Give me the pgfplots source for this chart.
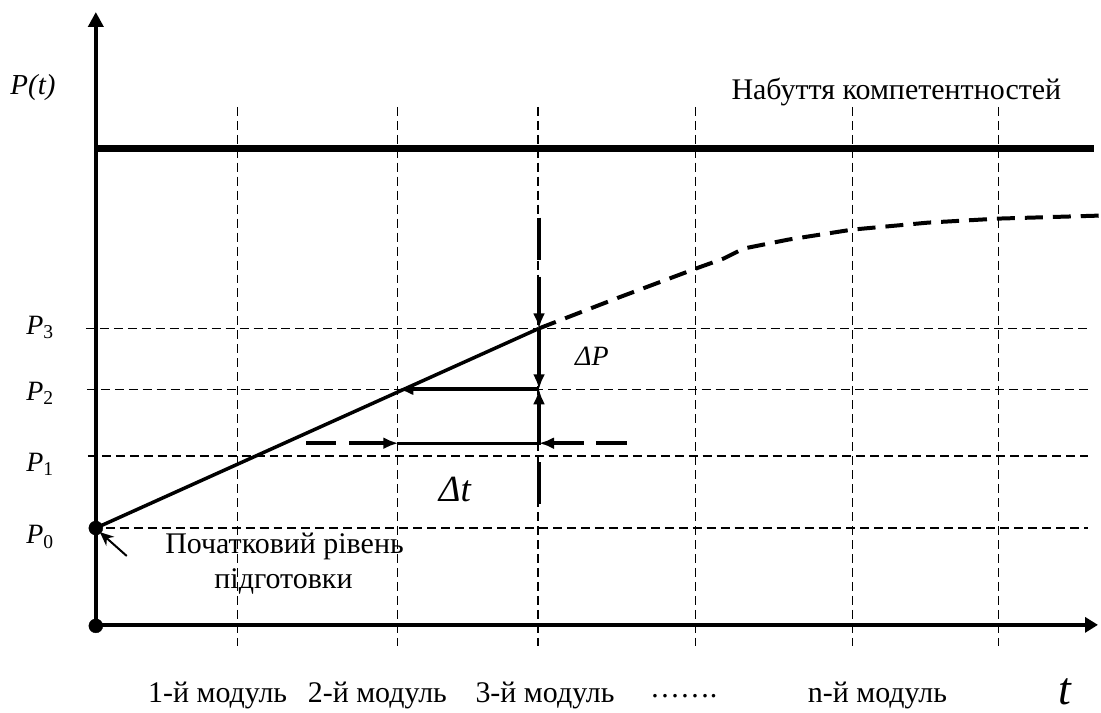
\documentclass[border=0pt]{standalone}
\usepackage{fontspec}
\setmainfont{Liberation Serif}
\usepackage{pgfplots}
\pgfplotsset{compat=1.18}
\usetikzlibrary{arrows.meta}

% schematic drawn in a 1101 x 711 grid (y grows downwards)
\newcommand{\fs}[1]{\fontsize{#1}{#1}\selectfont}

\begin{document}
\begin{tikzpicture}
\begin{axis}[
    scale only axis, width=1101bp, height=711bp,
    xmin=0, xmax=1101, ymin=0, ymax=711, y dir=reverse,
    hide axis, clip=false,
    grid/.style={black, line width=1.4bp, dash pattern=on 9bp off 5bp},
    arr/.style={-{Latex[length=15bp,width=12bp]}},
    every node/.append style={inner sep=0pt, text=black},
  ]
  % keep the whole canvas as the picture
  \path (0,0) rectangle (1101,711);

  % vertical grid lines (modules)
  \addplot[grid] coordinates {(238,107) (238,647)};
  \addplot[grid] coordinates {(398,107) (398,647)};
  \addplot[grid] coordinates {(539,107) (539,647)};
  \addplot[grid] coordinates {(697,107) (697,647)};
  \addplot[grid] coordinates {(854,107) (854,647)};
  \addplot[grid] coordinates {(1000,107) (1000,647)};

  % horizontal grid lines P0..P3
  \addplot[grid] coordinates {(86,329) (1090,329)};
  \addplot[grid] coordinates {(87,390) (1090,390)};
  \addplot[grid] coordinates {(88,457) (1090,457)};
  \addplot[grid] coordinates {(106,529) (1090,529)};

  % axes
  \addplot[black, line width=4bp, -{Triangle[length=15bp,width=15bp]}] coordinates {(96,630) (96,12)};
  \addplot[black, line width=4bp, -{Triangle[length=13bp,width=15bp]}] coordinates {(96,626) (1100,626)};
  \addplot[black, only marks, mark=*, mark size=7bp] coordinates {(96,627) (96,529)};

  % competence level
  \addplot[black, line width=7bp] coordinates {(96,149) (1096,149)};

  % growth line
  \addplot[black, line width=3.5bp] coordinates {(96,529) (540,329)};
  \addplot[black, line width=4bp, dash pattern=on 18bp off 10bp] coordinates {
    (540,329) (620,298) (700,268) (725,259) (745,249) (790,240)
    (854,230) (930,223) (1000,219) (1101,216)};

  % vertical marker at the 3rd module
  \addplot[black, line width=4.5bp] coordinates {(540,218) (540,260)};
  \addplot[black, line width=4.5bp, arr] coordinates {(540,277) (540,329)};
  \addplot[black, line width=3.5bp, arr] coordinates {(540,329) (540,390)};
  \addplot[black, line width=3.5bp, arr] coordinates {(540,446) (540,390)};
  \addplot[black, line width=4.5bp] coordinates {(540,463) (540,505)};

  % P2 back to the growth line
  \addplot[black, line width=4bp, arr] coordinates {(540,390) (399,390)};

  % delta t
  \addplot[black, line width=3bp] coordinates {(398,444) (540,444)};
  \addplot[black, line width=4bp] coordinates {(307,444) (337,444)};
  \addplot[black, line width=4bp, arr] coordinates {(350,444) (399,444)};
  \addplot[black, line width=4bp, arr] coordinates {(585,444) (540,444)};
  \addplot[black, line width=4bp] coordinates {(597,444) (628,444)};

  % pointer to the start level
  \addplot[black, line width=2bp, -{Stealth[length=14bp,width=12bp]}] coordinates {(127,557) (100,533)};

  % texts
  \node at (33,88) {\fs{29bp}\textit{P(t)}};
  \node at (40,328) {\fs{28bp}\textit{P}\textsubscript{3}};
  \node at (40,394) {\fs{28bp}\textit{P}\textsubscript{2}};
  \node at (40,465) {\fs{28bp}\textit{P}\textsubscript{1}};
  \node at (40,538) {\fs{28bp}\textit{P}\textsubscript{0}};
  \node at (898,92) {\fs{30bp}Набуття компетентностей};
  \node at (593,357) {\fs{28bp}\textit{ΔP}};
  \node at (456,490) {\fs{37bp}\textit{Δt}};
  \node at (285,547) {\fs{30bp}Початковий рівень};
  \node at (284,583) {\fs{30bp}підготовки};
  \node at (218,697) {\fs{30bp}1-й модуль};
  \node at (378,697) {\fs{30bp}2-й модуль};
  \node at (546,697) {\fs{30bp}3-й модуль};
  \node at (685,697) {\fs{30bp}…….};
  \node at (879,697) {\fs{30bp}n-й модуль};
  \node[anchor=base] at (1067,706) {\fs{46bp}\textit{t}};
\end{axis}
\end{tikzpicture}
\end{document}
